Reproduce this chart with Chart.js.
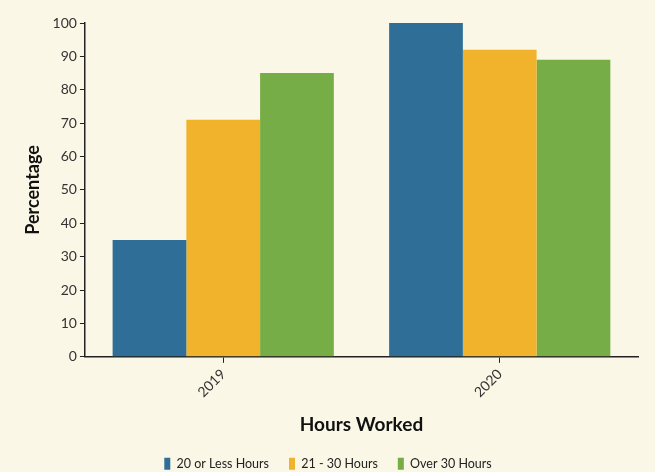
<!DOCTYPE html>
<html>
<head>
<meta charset="utf-8">
<script src="https://cdn.jsdelivr.net/npm/chart.js@4"></script>
<style>
  html, body { margin: 0; padding: 0; background: #fbf7e7; }
  #wrap { width: 655px; height: 472px; }
</style>
</head>
<body>
<div id="wrap"><canvas id="chart" width="655" height="472"></canvas></div>
<script>
const years = ["2019", "2020"];
const lessThan20 = [35, 100];
const from21to30 = [71, 92];
const over30 = [85, 89];
const yTicks = [0, 10, 20, 30, 40, 50, 60, 70, 80, 90, 100];

Chart.defaults.font.family = "Lato, 'Open Sans', sans-serif";
Chart.defaults.color = "#222";

new Chart(document.getElementById("chart"), {
  type: "bar",
  data: {
    labels: years,
    datasets: [
      { label: "20 or Less Hours", data: lessThan20, backgroundColor: "#2f6f97" },
      { label: "21 - 30 Hours", data: from21to30, backgroundColor: "#f1b32b" },
      { label: "Over 30 Hours", data: over30, backgroundColor: "#76ad47" }
    ]
  },
  options: {
    responsive: false,
    animation: false,
    layout: { padding: { top: 23, right: 17, left: 18, bottom: -8 } },
    datasets: { bar: { categoryPercentage: 0.8, barPercentage: 1.0 } },
    plugins: {
      legend: {
        position: "bottom",
        labels: {
          boxWidth: 6,
          boxHeight: 12,
          padding: 20,
          font: { size: 12.5 },
          color: "#222"
        }
      },
      tooltip: { enabled: false }
    },
    scales: {
      x: {
        grid: { drawOnChartArea: false, offset: false, color: "#222", tickLength: 6 },
        border: { color: "#222", width: 1.5 },
        ticks: { maxRotation: 45, minRotation: 45, font: { size: 14 }, color: "#333" },
        title: { display: true, text: "Hours Worked", font: { size: 19, weight: "bold" }, color: "#111", padding: { top: 10, bottom: 1 } }
      },
      y: {
        min: 0,
        max: 100,
        afterBuildTicks: (axis) => { axis.ticks = yTicks.map(v => ({ value: v })); },
        grid: { drawOnChartArea: false, color: "#222", tickLength: 5 },
        border: { color: "#222", width: 1.5 },
        ticks: { font: { size: 14 }, color: "#333", padding: 3 },
        title: { display: true, text: "Percentage", font: { size: 18, weight: "bold" }, color: "#111", padding: { bottom: 6 } }
      }
    }
  }
});
</script>
</body>
</html>
